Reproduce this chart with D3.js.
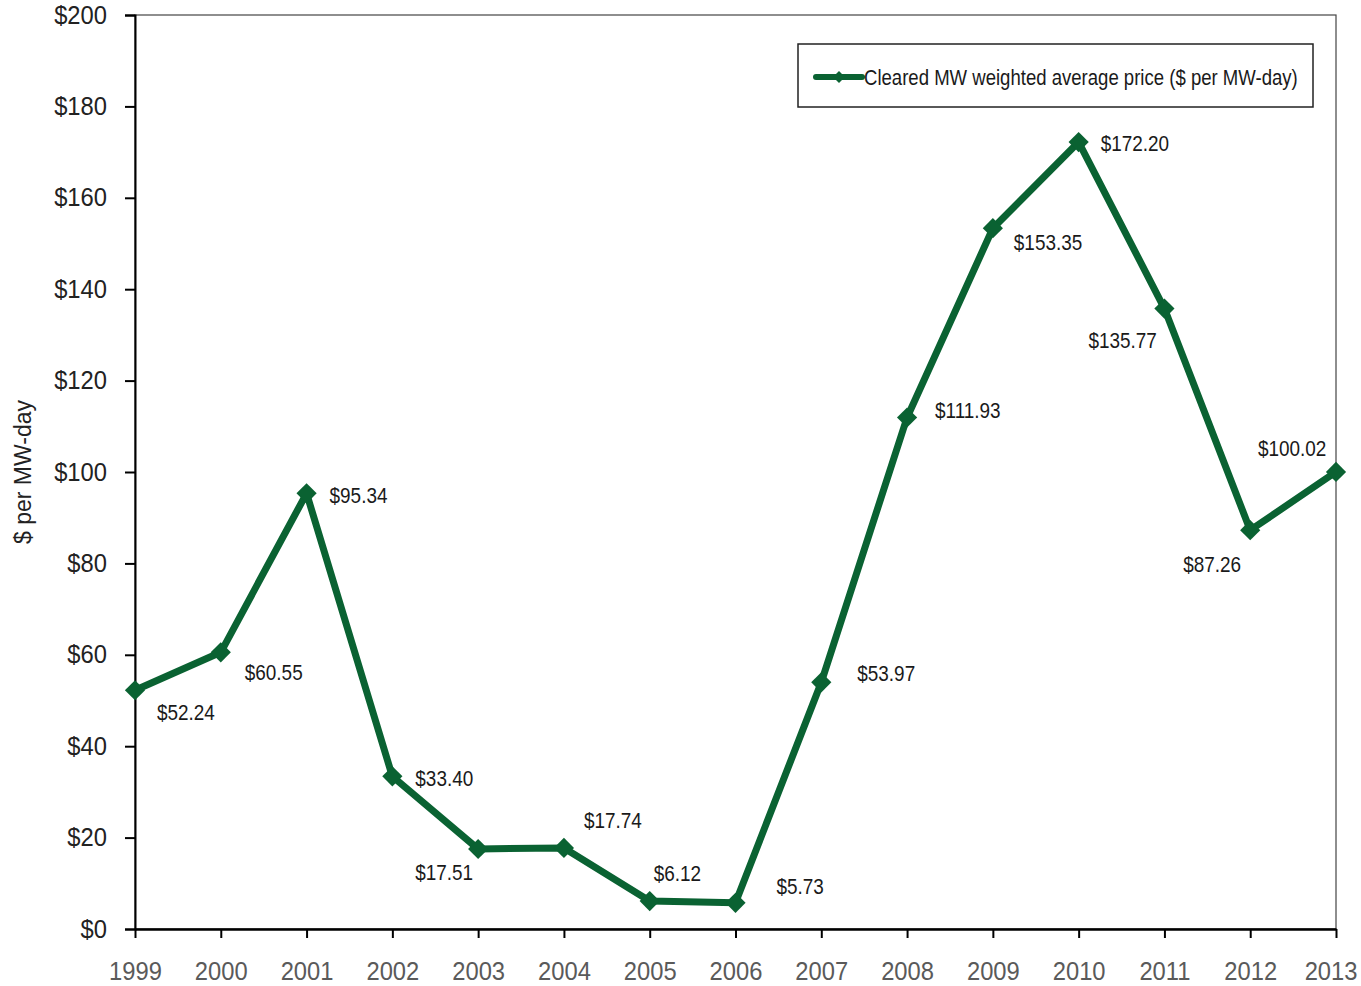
<!DOCTYPE html>
<html><head><meta charset="utf-8">
<script src="https://cdn.jsdelivr.net/npm/d3@7"></script>
<style>
body{margin:0;background:#fff;}
text{font-family:"Liberation Sans",Arial,sans-serif;}
</style></head>
<body><svg id="c" width="1361" height="986"></svg>
<script>
const years = ["1999","2000","2001","2002","2003","2004","2005","2006","2007","2008","2009","2010","2011","2012","2013"];
const prices = [52.24,60.55,95.34,33.40,17.51,17.74,6.12,5.73,53.97,111.93,153.35,172.20,135.77,87.26,100.02];
const yTicks = [0,20,40,60,80,100,120,140,160,180,200];
const seriesName = "Cleared MW weighted average price ($ per MW-day)";
const yTitle = "$ per MW-day";
// label offsets (layout)
const labelDx = [22,24,23,23,-63,20,4,41,36,28,21,22,-76,-67,-78];
const labelDy = [22,20,2,2,23,-28,-28,-17,-9,-7,14,1,31,34,-24];

function squeeze(sel, factor){
  sel.each(function(){
    const w = this.getComputedTextLength();
    d3.select(this).attr("textLength", w*factor).attr("lengthAdjust","spacingAndGlyphs");
  });
}

const svg = d3.select("#c");
const m = {l:135,r:1336,t:15,b:929};
const x = d3.scalePoint().domain(years).range([m.l,m.r]);
const y = d3.scaleLinear().domain([0,200]).range([m.b,m.t]);
const green = "#0a6232";

// frame
svg.append("rect").attr("x",m.l).attr("y",m.t).attr("width",m.r-m.l).attr("height",m.b-m.t)
  .attr("fill","none").attr("stroke","#444").attr("stroke-width",1.2);

// y axis
const ya = svg.append("g").attr("transform",`translate(${m.l},0)`)
  .call(d3.axisLeft(y).tickValues(yTicks).tickSize(10).tickPadding(18).tickFormat(d=>"$"+d));
ya.select(".domain").attr("stroke","#000").attr("stroke-width",2);
ya.selectAll(".tick line").attr("stroke","#000").attr("stroke-width",2);
ya.selectAll(".tick text").attr("font-size",25).attr("fill","#222")
  .style("font-family","'Liberation Sans',Arial,sans-serif").call(squeeze,0.95);

// x axis
const xa = svg.append("g").attr("transform",`translate(0,${m.b})`)
  .call(d3.axisBottom(x).tickSize(9).tickPadding(16).tickSizeOuter(0));
xa.select(".domain").attr("stroke","#000").attr("stroke-width",2.5);
xa.selectAll(".tick line").attr("stroke","#000").attr("stroke-width",2);
xa.selectAll(".tick text").attr("font-size",25).attr("fill","#5a5a5a")
  .attr("y",51).attr("dy",0)
  .style("font-family","'Liberation Sans',Arial,sans-serif").call(squeeze,0.95);
// last label: keep inside the canvas
xa.selectAll(".tick text").filter(d=>d===years[years.length-1])
  .attr("text-anchor","end").attr("x",1357-x(years[years.length-1]));

// y title
svg.append("text").attr("transform","translate(31,472) rotate(-90)").attr("text-anchor","middle")
  .attr("font-size",23).attr("fill","#222").text(yTitle);

// line
const line = d3.line().x((d,i)=>x(years[i])).y(d=>y(d));
svg.append("path").datum(prices).attr("d",line).attr("fill","none")
  .attr("stroke",green).attr("stroke-width",7).attr("stroke-linejoin","round");

// markers
svg.selectAll(".mk").data(prices).enter().append("path")
  .attr("d",d3.symbol(d3.symbolDiamond2,260)())
  .attr("transform",(d,i)=>`translate(${x(years[i])},${y(d)})`).attr("fill",green);

// labels
svg.selectAll(".lb").data(prices).enter().append("text")
  .attr("x",(d,i)=>x(years[i])+labelDx[i]).attr("y",(d,i)=>y(d)+labelDy[i]+8)
  .attr("font-size",22).attr("fill","#1a1a1a").text(d=>"$"+d.toFixed(2)).call(squeeze,0.86);

// legend
const lg = svg.append("g");
lg.append("rect").attr("x",798).attr("y",44).attr("width",515).attr("height",63)
  .attr("fill","#fff").attr("stroke","#222").attr("stroke-width",1.5);
lg.append("line").attr("x1",816).attr("x2",862).attr("y1",77).attr("y2",77)
  .attr("stroke",green).attr("stroke-width",6).attr("stroke-linecap","round");
lg.append("path").attr("d",d3.symbol(d3.symbolDiamond2,90)()).attr("transform","translate(839,77)").attr("fill",green);
const lt = lg.append("text").attr("x",0).attr("y",0).attr("font-size",22).attr("fill","#1a1a1a").text(seriesName);
const lw = lt.node().getComputedTextLength();
lt.attr("transform",`translate(864,85) scale(${434/lw},1)`);
</script></body></html>
